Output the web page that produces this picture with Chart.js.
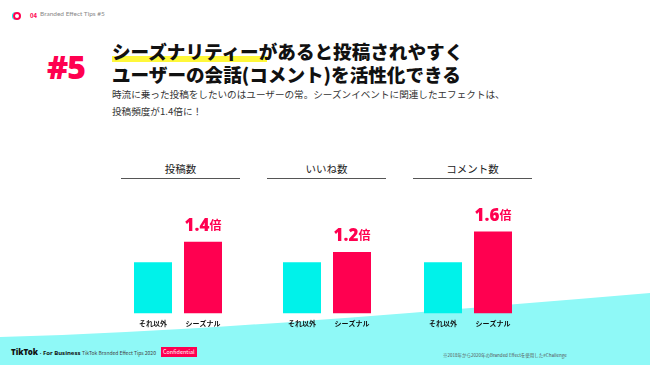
<!DOCTYPE html>
<html lang="ja">
<head>
  <meta charset="UTF-8" />
  <title>Branded Effect Tips #5</title>
  <script src="https://cdn.jsdelivr.net/npm/chart.js"></script>
  <style>
    body { margin: 0; width: 650px; height: 365px; overflow: hidden; background: #fff; font-family: "Noto Sans CJK JP", "Noto Sans", sans-serif; position: relative; }
    .abs { position: absolute; white-space: nowrap; }
    .wave { position: absolute; left: 0; top: 0; }
    .logo { left: 13px; top: 12px; width: 4px; height: 4px; border-radius: 50%; border: 2px solid #ff0050; box-shadow: -1px 0 0 #00f2ea; }
    .tipno { left: 30px; top: 11px; font-size: 6px; font-weight: 700; color: #ff0050; }
    .tipname { left: 40px; top: 10px; font-size: 6.5px; color: #888; font-family: Lato, sans-serif; }
    .num { left: 47px; top: 45px; font-size: 32px; font-weight: 900; color: #ff0050; font-family: "Noto Sans", sans-serif; letter-spacing: -1px; }
    .hl { left: 112px; top: 56px; width: 155px; height: 6px; background: #fff83a; }
    .title { left: 112px; font-size: 18.6px; font-weight: 900; line-height: 19px; color: #111; }
    .t1 { top: 41px; }
    .t2 { top: 64px; }
    .sub { left: 112px; top: 86px; font-size: 9.6px; line-height: 17px; color: #333; }
    .ptitle { top: 162px; width: 119px; text-align: center; font-size: 10.5px; color: #222; border-bottom: 1px solid #555; padding-bottom: 3px; line-height: 13px; }
    .chartbox { position: absolute; top: 197px; width: 100px; height: 137px; }
    .foot1 { left: 11px; top: 346px; font-size: 8px; font-weight: 900; color: #111; font-family: "Noto Sans", sans-serif; }
    .foot1 span { font-size: 6px; font-weight: 700; }
    .foot2 { left: 82px; top: 349px; font-size: 5px; color: #444; }
    .conf { left: 161px; top: 347px; font-size: 5.5px; color: #fff; background: #ff0050; padding: 1px 2px; }
    .note { left: 443px; top: 352px; font-size: 4.5px; color: #555; }
  </style>
</head>
<body>
  <svg class="wave" width="650" height="365">
    <path d="M0 337 C 200 332, 420 312, 650 293 L650 365 L0 365 Z" fill="#8ff9f7" />
  </svg>

  <div class="abs logo"></div>
  <div class="abs tipno">04</div>
  <div class="abs tipname">Branded Effect Tips #5</div>

  <div class="abs num">#5</div>
  <div class="abs hl"></div>
  <div class="abs title t1">シーズナリティーがあると投稿されやすく</div>
  <div class="abs title t2">ユーザーの会話(コメント)を活性化できる</div>
  <div class="abs sub">時流に乗った投稿をしたいのはユーザーの常。シーズンイベントに関連したエフェクトは、<br>投稿頻度が1.4倍に！</div>

  <div id="panels"></div>

  <div class="abs foot1">TikTok<span> · For Business</span></div>
  <div class="abs foot2">TikTok Branded Effect Tips 2020</div>
  <div class="abs conf">Confidential</div>
  <div class="abs note">※2018年から2020年のBranded Effectを使用した#Challenge</div>

  <script>
    const panelTitles = ['投稿数', 'いいね数', 'コメント数'];
    const categories = ['それ以外', 'シーズナル'];
    const baselineValues = [1, 1, 1];
    const seasonalValues = [1.4, 1.2, 1.6];
    const multiplierLabels = ['1.4', '1.2', '1.6'];

    const panelLeft = [121, 267, 413];
    const chartLeft = [128, 277, 418];

    const multiplierPlugin = {
      id: 'multiplier',
      afterDatasetsDraw(chart) {
        const bar = chart.getDatasetMeta(0).data[1];
        const ctx = chart.ctx;
        const num = chart.options.plugins.multiplier.text;
        ctx.save();
        ctx.fillStyle = '#ff0050';
        ctx.textBaseline = 'alphabetic';
        ctx.font = '900 17px "Noto Sans", sans-serif';
        const w1 = ctx.measureText(num).width;
        ctx.font = '700 12px "Noto Sans CJK JP"';
        const w2 = ctx.measureText('倍').width;
        const x0 = bar.x - (w1 + w2) / 2;
        const y = bar.y - 11;
        ctx.font = '900 17px "Noto Sans", sans-serif';
        ctx.fillText(num, x0, y);
        ctx.font = '700 12px "Noto Sans CJK JP"';
        ctx.fillText('倍', x0 + w1, y - 1);
        ctx.restore();
      }
    };

    const panels = document.getElementById('panels');
    panelTitles.forEach((title, i) => {
      const t = document.createElement('div');
      t.className = 'abs ptitle';
      t.style.left = panelLeft[i] + 'px';
      t.textContent = title;
      panels.appendChild(t);

      const box = document.createElement('div');
      box.className = 'chartbox';
      box.style.left = chartLeft[i] + 'px';
      const canvas = document.createElement('canvas');
      box.appendChild(canvas);
      panels.appendChild(box);

      new Chart(canvas, {
        type: 'bar',
        data: {
          labels: categories,
          datasets: [{
            data: [baselineValues[i], seasonalValues[i]],
            backgroundColor: ['#00f2ea', '#ff0050'],
            categoryPercentage: 1,
            barPercentage: 0.76
          }]
        },
        options: {
          responsive: true,
          maintainAspectRatio: false,
          animation: false,
          layout: { padding: { top: 14, left: 0, right: 0, bottom: 0 } },
          plugins: {
            legend: { display: false },
            tooltip: { enabled: false },
            multiplier: { text: multiplierLabels[i] }
          },
          scales: {
            x: {
              grid: { display: false, drawTicks: false },
              border: { display: false },
              ticks: {
                color: '#111',
                padding: 6,
                font: { size: 7, weight: '700', family: '"Noto Sans CJK JP"' }
              }
            },
            y: {
              display: false,
              min: 0,
              max: 2
            }
          }
        },
        plugins: [multiplierPlugin]
      });
    });
  </script>
</body>
</html>
